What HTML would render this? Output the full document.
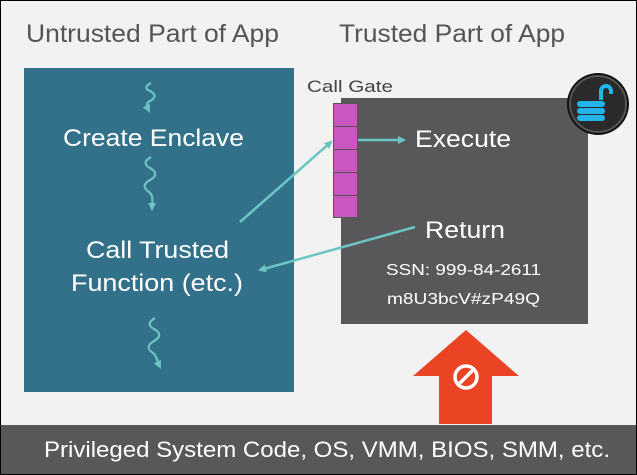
<!DOCTYPE html>
<html><head><style>
html,body{margin:0;padding:0;background:#f2f2f2;}
svg{display:block;font-family:"Liberation Sans",Arial,sans-serif;}
</style></head><body>
<svg width="637" height="475" viewBox="0 0 637 475" xmlns="http://www.w3.org/2000/svg">
<defs>
<marker id="ah" markerWidth="8" markerHeight="8" refX="6" refY="4" orient="auto" markerUnits="userSpaceOnUse">
<path d="M0,0 L8,4 L0,8 Z" fill="#6cc5c4"/>
</marker>
</defs>
<rect x="0.5" y="0.5" width="636" height="474" fill="#f2f2f2" stroke="#000"/>
<text x="26" y="42" font-size="25" fill="#555" textLength="253" lengthAdjust="spacingAndGlyphs">Untrusted Part of App</text>
<text x="339" y="42" font-size="25" fill="#555" textLength="226" lengthAdjust="spacingAndGlyphs">Trusted Part of App</text>

<rect x="24" y="68" width="270" height="324" fill="#33718a"/>
<text x="63" y="146" font-size="24" fill="#fff" textLength="181" lengthAdjust="spacingAndGlyphs">Create Enclave</text>
<text x="86" y="258" font-size="24" fill="#fff" textLength="143" lengthAdjust="spacingAndGlyphs">Call Trusted</text>
<text x="71" y="291" font-size="24" fill="#fff" textLength="172" lengthAdjust="spacingAndGlyphs">Function (etc.)</text>

<g fill="none" stroke="#6cc5c4" stroke-width="2.2">
<path d="M151,83 c-6,3 -6,6 -1,8 c6,3 6,7 0,10 c-5,3 -3,6 -1,10" marker-end="url(#ah)"/>
<path d="M151,157 c-7,4 -7,8 -1,11 c7,4 7,8 0,12 c-7,4 -7,8 -1,12 c5,4 3,9 3,17" marker-end="url(#ah)"/>
<path d="M155,318 c-7,4 -7,8 -1,11 c7,4 7,8 0,12 c-7,4 -7,8 -1,12 c4,3 4,8 7,14" marker-end="url(#ah)"/>
<path d="M467,157 c-7,4 -7,8 -1,11 c7,4 7,8 0,12 c-5,3 -4,8 -2,18" marker-end="url(#ah)"/>
</g>

<rect x="341" y="98" width="247" height="226" fill="#58585a"/>
<text x="307" y="92" font-size="17" fill="#444" textLength="86" lengthAdjust="spacingAndGlyphs">Call Gate</text>
<g fill="#c858bf" stroke="#555" stroke-width="1">
<rect x="333.5" y="103.5" width="24" height="23"/>
<rect x="333.5" y="126.5" width="24" height="23"/>
<rect x="333.5" y="149.5" width="24" height="23"/>
<rect x="333.5" y="172.5" width="24" height="23"/>
<rect x="333.5" y="195.5" width="24" height="22"/>
</g>
<text x="415" y="147" font-size="24" fill="#fff" textLength="96" lengthAdjust="spacingAndGlyphs">Execute</text>
<text x="425" y="238" font-size="24" fill="#fff" textLength="80" lengthAdjust="spacingAndGlyphs">Return</text>
<text x="386" y="275" font-size="16" fill="#fff" textLength="155" lengthAdjust="spacingAndGlyphs">SSN: 999-84-2611</text>
<text x="387" y="304" font-size="16" fill="#fff" textLength="153" lengthAdjust="spacingAndGlyphs">m8U3bcV#zP49Q</text>

<line x1="240" y1="222" x2="331" y2="142" stroke="#6cc5c4" stroke-width="2.5" marker-end="url(#ah)"/>
<line x1="358" y1="140" x2="404" y2="140" stroke="#6cc5c4" stroke-width="2.5" marker-end="url(#ah)"/>
<line x1="415" y1="227" x2="260" y2="270" stroke="#6cc5c4" stroke-width="2.5" marker-end="url(#ah)"/>

<circle cx="598" cy="104" r="31" fill="#111"/>
<circle cx="598" cy="104" r="28" fill="#2a2a2a" stroke="#555" stroke-width="2"/>
<path d="M601,100 v-9 a5,5 0 0 1 10,0 v3" fill="none" stroke="#22b4ea" stroke-width="4"/>
<rect x="577" y="101" width="28" height="6" rx="3" fill="#22b4ea"/>
<rect x="577" y="108" width="28" height="6" rx="3" fill="#22b4ea"/>
<rect x="577" y="115" width="28" height="6" rx="3" fill="#22b4ea"/>

<path d="M466,330 L519,376 L492,376 L492,424 L439,424 L439,376 L413,376 Z" fill="#ea4425"/>
<circle cx="466" cy="377" r="11" fill="none" stroke="#fff" stroke-width="3.5"/>
<line x1="459" y1="384" x2="473" y2="370" stroke="#fff" stroke-width="3.5"/>

<rect x="1" y="425" width="635" height="49" fill="#58585a"/>
<text x="44" y="457" font-size="22" fill="#fff" textLength="566" lengthAdjust="spacingAndGlyphs">Privileged System Code, OS, VMM, BIOS, SMM, etc.</text>
<rect x="0.5" y="0.5" width="636" height="474" fill="none" stroke="#000"/>
</svg>
</body></html>
